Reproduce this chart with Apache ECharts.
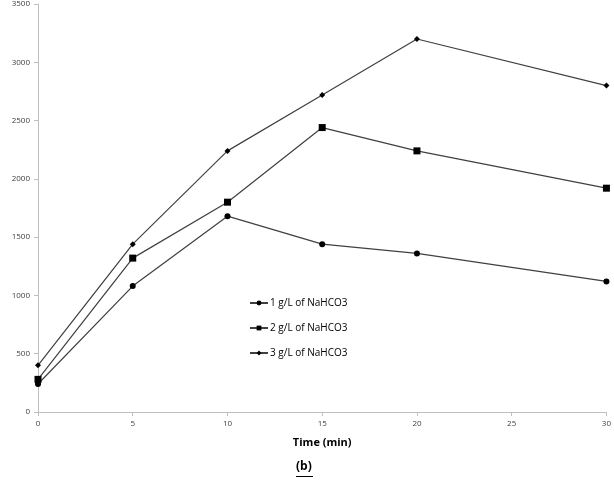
<!DOCTYPE html>
<html>
<head>
<meta charset="utf-8">
<script src="https://cdn.jsdelivr.net/npm/echarts@6/dist/echarts.min.js"></script>
<style>
  html, body { margin: 0; padding: 0; background: #fff; }
  #chart { width: 614px; height: 480px; }
</style>
</head>
<body>
<div id="chart"></div>
<script>
'use strict';

var times = [0, 5, 10, 15, 20, 30];
var seriesNames = ['1 g/L of NaHCO3', '2 g/L of NaHCO3', '3 g/L of NaHCO3'];
var conc1 = [240, 1080, 1680, 1440, 1360, 1120];
var conc2 = [280, 1320, 1800, 2440, 2240, 1920];
var conc3 = [400, 1440, 2240, 2720, 3200, 2800];
var symbols = ['circle', 'rect', 'diamond'];
var symbolSizes = [6, 7, 6];

function pairs(vals) {
    var out = [];
    for (var i = 0; i < times.length; i++) {
        out.push([times[i], vals[i]]);
    }
    return out;
}

var allVals = [conc1, conc2, conc3];
var series = [];
for (var i = 0; i < allVals.length; i++) {
    series.push({
        name: seriesNames[i],
        type: 'line',
        data: pairs(allVals[i]),
        symbol: symbols[i],
        symbolSize: symbolSizes[i],
        itemStyle: { color: '#000' },
        lineStyle: { color: '#404040', width: 1.2 },
        animation: false
    });
}

var chart = echarts.init(document.getElementById('chart'));
chart.setOption({
    backgroundColor: '#fff',
    textStyle: { fontFamily: 'Open Sans, Liberation Sans, sans-serif' },
    grid: { left: 38, right: 6, top: 0, bottom: 68 },
    legend: {
        orient: 'vertical',
        left: 244,
        top: 293,
        itemGap: 15,
        itemWidth: 18,
        itemHeight: 6,
        textStyle: { fontSize: 10, color: '#000', padding: [0, 0, 0, -3] },
        data: seriesNames
    },
    xAxis: {
        type: 'value',
        min: 0,
        max: 30,
        interval: 5,
        name: 'Time (min)',
        nameLocation: 'middle',
        nameGap: 25,
        nameTextStyle: { fontSize: 11, fontWeight: 'bold', color: '#000' },
        axisLine: { lineStyle: { color: '#bfbfbf' } },
        axisTick: { lineStyle: { color: '#bfbfbf' }, length: 4 },
        axisLabel: { fontSize: 8, color: '#404040', margin: 8 },
        splitLine: { show: false }
    },
    yAxis: {
        type: 'value',
        min: 0,
        max: 3500,
        interval: 500,
        axisLine: { show: true, lineStyle: { color: '#bfbfbf' } },
        axisTick: { show: true, lineStyle: { color: '#bfbfbf' }, length: 4 },
        axisLabel: { fontSize: 8, color: '#404040', margin: 8,
                     formatter: function (v) { return String(v); } },
        splitLine: { show: false }
    },
    graphic: [{
        type: 'text',
        left: 296,
        top: 461,
        style: { text: '(b)', fontSize: 12, fontWeight: 'bold', fill: '#000',
                 fontFamily: 'Open Sans, Liberation Sans, sans-serif' }
    }, {
        type: 'rect',
        left: 296,
        top: 476,
        shape: { width: 17, height: 1 },
        style: { fill: '#000' }
    }],
    series: series
});
</script>
</body>
</html>
